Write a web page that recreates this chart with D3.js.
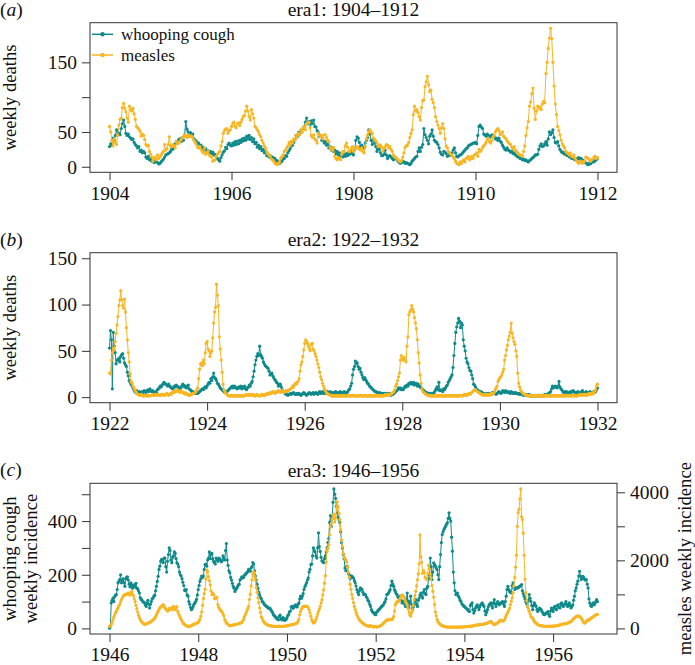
<!DOCTYPE html>
<html><head><meta charset="utf-8">
<script src="https://cdn.jsdelivr.net/npm/d3@7"></script>
<style>
body{margin:0;background:#fff}
svg text{font-family:"Liberation Serif","Times New Roman",Times,serif;fill:#111}
</style></head><body><svg id="c" width="695" height="665"></svg>
<script>
// ---------- data: weekly values, one per week from the start year ----------
const eraStarts = [1904, 1922, 1946];
const eraTitles = ["era1: 1904\u20131912", "era2: 1922\u20131932", "era3: 1946\u20131956"];
const seriesNames = ["whooping cough", "measles"];

const era1WC = [29,33,31,41,38,45,53,50,48,46,55,62,67,58,48,45,47,43,41,39,40,35,32,30,27,29,22,24,20,22,20,14,12,15,10,12,8,9,6,8,7,6,4,5,7,9,11,14,17,18,19,20,
22,26,25,31,33,36,35,39,40,36,42,38,46,65,54,50,45,49,44,47,40,38,37,33,34,30,31,26,28,24,26,22,23,20,22,19,21,17,18,15,12,10,8,13,17,21,23,28,26,32,34,31,
30,34,31,36,32,37,33,38,35,40,37,41,38,44,40,45,39,42,36,40,33,35,28,31,26,29,23,25,20,22,16,18,14,16,12,14,11,12,8,9,6,5,7,8,11,12,16,15,
20,23,26,30,31,35,39,45,44,49,46,51,50,55,58,64,70,62,65,60,66,62,67,58,57,52,49,44,45,38,38,34,36,31,33,27,29,24,27,22,24,19,22,17,20,15,18,14,17,15,19,16,21,18,22,20,
17,25,38,43,41,35,29,31,28,27,34,38,42,53,47,38,32,39,34,29,22,27,25,20,16,16,18,24,17,12,15,16,14,12,10,11,12,11,8,6,5,6,8,7,5,6,5,4,3,5,8,10,
12,14,15,22,27,22,28,32,55,46,42,38,33,44,47,53,44,38,36,35,32,27,21,18,17,22,21,19,15,16,17,17,20,24,27,20,15,14,16,17,18,20,22,24,26,27,30,31,32,33,34,34,
35,33,45,58,60,57,55,47,46,44,47,45,42,44,46,45,43,40,41,38,41,37,35,31,28,25,24,27,24,23,21,22,19,20,17,16,14,15,12,13,10,11,9,10,8,7,9,10,12,13,15,17,
17,18,25,30,33,29,30,33,36,31,40,50,46,49,53,42,35,34,36,30,25,22,20,21,18,19,16,17,14,15,12,13,11,10,12,11,13,11,12,10,9,7,6,4,3,5,4,6,8,7,9,10,12];

const era1Measles = [58,50,38,30,40,35,32,45,60,68,70,85,91,84,79,70,64,87,82,80,84,76,68,58,56,54,51,44,47,45,39,32,30,31,22,18,14,8,12,14,10,17,12,14,17,20,22,32,24,26,32,43,
30,29,32,30,27,36,33,34,36,39,41,43,46,44,42,46,43,44,44,42,38,35,32,28,27,29,25,22,20,27,18,20,22,17,15,14,8,9,10,15,18,20,22,30,36,48,52,54,55,48,52,53,
58,62,64,58,56,62,63,59,64,68,72,74,80,87,80,72,67,82,76,70,58,56,53,50,46,43,38,34,30,27,22,19,17,15,11,10,8,5,4,3,5,7,12,15,17,22,24,27,
30,35,31,37,34,40,38,45,42,48,46,53,50,56,58,53,62,63,64,56,45,42,46,40,38,34,48,46,44,44,40,46,46,42,38,36,28,25,24,28,15,12,10,13,12,10,18,22,22,30,34,28,22,22,26,29,
22,26,28,29,27,25,24,27,22,20,29,40,45,50,53,50,48,41,39,37,34,29,31,31,28,22,26,29,32,31,27,29,25,22,17,15,13,12,10,8,7,9,14,20,28,30,31,35,42,48,53,75,
87,80,82,78,72,67,85,95,96,115,122,130,118,108,110,97,92,85,72,65,60,55,48,56,62,55,40,30,27,22,20,18,17,14,12,8,5,4,3,7,5,8,10,7,12,13,15,10,12,15,12,17,
18,20,15,25,22,24,28,30,32,35,39,41,36,34,38,43,45,50,53,55,52,46,48,50,44,42,40,37,35,33,32,28,26,29,24,22,20,18,17,16,15,22,30,45,56,65,87,93,105,113,84,68,
80,87,84,86,82,90,94,92,134,150,170,185,199,184,150,116,90,75,58,52,46,38,33,30,27,22,20,19,17,20,15,14,17,12,9,7,5,6,8,5,7,8,14,13,12,10,8,10,11,14,15,12,13];

const era2WC = [53,72,62,9,70,55,48,36,40,40,42,38,44,46,47,42,37,35,33,27,23,18,16,14,12,10,8,6,5,7,5,4,6,5,4,6,5,7,6,5,7,8,6,9,7,6,7,5,4,6,5,8,
9,10,12,11,13,14,16,15,14,13,12,14,12,11,10,9,10,12,11,13,12,11,10,9,10,12,14,13,11,12,10,12,13,9,8,7,6,6,5,5,4,5,4,5,6,7,8,9,8,10,11,10,
12,14,16,15,20,18,22,26,21,20,18,15,14,12,10,9,8,7,6,5,5,6,7,8,9,10,11,12,10,12,11,10,9,10,11,10,12,9,11,10,12,9,8,10,11,13,12,15,
17,22,28,35,40,44,47,45,55,46,44,42,38,36,34,33,32,31,28,24,25,26,23,21,19,18,16,15,12,13,14,11,8,6,5,4,3,3,2,3,3,4,3,4,5,4,3,3,4,3,4,3,2,3,4,5,
4,3,2,3,4,5,4,3,4,5,3,4,5,4,3,5,6,4,5,6,4,5,4,5,6,5,4,6,5,4,5,4,5,6,4,5,4,5,6,5,4,5,6,5,4,5,6,8,9,12,15,24,
30,33,39,36,37,33,30,31,27,24,21,19,21,19,17,15,14,12,11,10,9,8,7,6,6,5,5,4,5,4,3,4,3,4,3,4,3,3,4,3,2,3,3,4,5,6,7,8,10,9,10,8,
9,8,10,12,11,13,12,15,14,16,15,14,16,13,14,15,12,14,12,11,10,9,8,7,6,5,5,4,4,3,4,3,4,4,5,7,9,11,8,16,7,8,7,6,9,8,10,12,13,16,
18,20,22,24,32,45,58,70,76,80,85,82,75,80,78,62,55,50,42,38,36,32,29,28,24,20,14,13,11,9,8,7,6,5,6,5,4,4,3,3,4,3,
4,3,3,4,5,4,5,4,3,4,5,6,5,4,5,7,6,5,7,6,5,6,5,4,6,5,4,5,4,5,4,4,3,4,3,4,3,2,3,2,3,2,2,3,2,1,2,1,2,1,2,1,2,2,1,2,2,1,2,2,3,2,3,3,
4,5,6,9,12,10,11,12,11,10,12,17,11,9,8,6,5,6,5,6,5,4,5,6,5,6,7,6,5,4,5,6,5,4,5,6,7,5,4,5,6,5,4,5,6,5,4,5,6,5,6,8,10];

const era2Measles = [26,25,40,48,53,51,60,69,78,87,99,105,115,105,99,96,106,92,75,62,48,38,25,17,15,12,10,8,6,4,3,3,2,2,3,2,1,2,2,1,2,2,1,2,2,2,3,2,2,3,2,3,
3,2,2,3,3,2,3,2,3,4,3,2,3,4,3,5,6,5,7,6,8,7,6,5,7,6,5,4,5,3,4,3,2,3,2,3,3,4,
4,5,6,8,10,20,30,36,37,34,40,36,48,58,
60,52,50,44,48,50,64,80,92,97,122,110,99,65,52,40,27,14,8,6,4,3,2,2,1,2,1,2,1,1,2,1,2,1,1,2,1,2,1,1,2,2,3,2,3,2,3,2,
2,3,2,1,2,3,2,2,1,2,3,2,2,3,2,3,4,3,4,5,4,5,6,5,4,6,5,6,7,6,5,6,7,6,5,6,7,6,7,8,
8,9,10,12,11,13,15,14,16,17,20,28,35,38,44,51,
58,62,60,58,55,52,50,57,58,52,50,47,44,40,36,32,27,22,19,15,12,9,7,5,
4,3,3,2,2,1,2,1,1,2,1,2,1,1,2,1,1,2,1,2,1,1,2,2,1,2,1,2,
2,1,2,1,1,2,1,2,2,1,1,2,1,2,1,1,2,1,2,1,2,1,1,2,1,2,2,1,2,1,1,2,1,2,3,2,2,3,2,3,3,4,5,6,
8,12,14,18,22,26,40,45,42,40,43,40,38,55,65,89,92,94,99,95,92,86,80,74,62,48,37,24,15,9,6,5,4,3,3,2,
2,2,1,2,1,1,2,1,2,1,1,2,1,2,1,2,1,1,2,1,2,1,2,1,1,2,1,2,1,2,1,1,2,1,2,2,1,2,3,2,3,2,3,4,3,4,5,6,
7,8,8,7,6,5,5,4,3,3,2,3,2,2,3,2,3,2,3,4,3,4,5,
8,10,12,17,19,21,22,24,27,30,40,45,51,56,62,66,70,80,69,64,60,57,50,44,26,15,11,8,6,5,4,3,3,2,
2,1,2,1,1,2,1,2,1,2,1,1,2,1,2,1,2,1,1,2,1,2,1,2,1,1,2,1,2,1,2,1,2,1,1,2,1,2,1,2,1,2,1,2,2,1,2,1,2,2,1,2,2,1,2,2,3,2,2,3,2,3,2,
3,2,3,4,3,4,3,5,4,6,8,12,14];

const era3WC = [1,8,95,105,113,100,118,124,126,145,170,175,182,200,170,178,185,170,157,185,190,192,180,165,155,170,160,150,162,158,155,168,150,148,140,132,115,108,106,100,98,95,88,82,95,105,90,76,90,100,110,113,
120,124,140,157,175,194,220,232,250,257,255,245,262,262,230,210,250,275,300,290,255,245,265,270,285,280,260,245,240,230,210,200,195,185,172,160,142,140,145,125,120,100,90,78,70,75,82,90,95,100,108,125,
145,160,175,185,195,190,195,220,238,240,232,255,262,285,260,275,280,260,250,245,240,262,255,250,262,260,255,248,252,270,262,255,290,316,255,235,215,207,190,180,168,157,150,138,145,150,155,162,165,180,185,192,
188,190,198,200,205,207,212,220,215,213,225,230,245,240,215,195,180,165,150,135,125,115,110,100,98,92,88,85,82,80,76,75,76,70,65,60,52,48,45,40,38,34,32,45,50,35,32,40,38,30,32,33,
40,48,52,62,65,80,82,75,78,85,88,82,80,90,95,110,120,112,120,130,145,155,162,170,180,188,210,220,238,240,270,300,290,285,270,262,300,356,305,287,265,252,248,245,260,270,285,300,320,335,395,420,
380,410,470,520,500,485,455,430,415,405,395,360,320,300,275,260,225,215,230,230,205,200,185,195,
195,190,188,178,170,158,145,135,126,140,151,148,145,135,126,128,126,118,113,105,100,90,82,70,63,60,57,53,
51,60,63,68,70,75,78,82,85,88,95,100,110,126,128,132,138,145,160,176,165,157,145,138,130,126,118,113,116,120,105,95,98,100,90,82,110,132,100,76,100,120,90,70,80,88,100,107,90,82,105,113,
125,132,120,113,135,145,130,126,150,157,185,200,262,230,182,210,244,238,232,225,219,200,182,230,275,320,350,360,369,375,381,388,394,410,431,410,400,340,288,210,170,140,126,130,132,120,113,105,100,92,88,84,
82,78,76,72,70,65,63,85,90,95,70,57,66,76,82,88,80,70,80,88,92,95,88,82,65,51,60,70,80,88,92,95,85,76,95,107,92,82,92,100,92,88,93,95,98,100,90,82,100,120,145,157,
145,138,135,132,160,170,150,145,150,151,151,152,155,157,160,163,140,130,120,110,100,92,82,105,126,112,100,85,70,85,95,88,82,70,63,70,76,73,70,63,57,52,51,55,57,60,63,52,45,65,76,68,
63,78,82,72,70,85,88,78,76,92,95,85,82,88,92,100,90,82,88,95,85,76,82,88,105,120,140,151,165,176,195,213,195,182,188,194,188,182,180,182,165,151,110,95,85,82,90,95,88,92,100,107,100];

const era3Measles = [60,80,110,180,250,330,400,460,500,560,610,660,710,790,850,900,950,980,1000,990,1000,1030,1040,1000,980,1060,1085,1010,960,870,790,680,580,480,390,320,260,215,190,160,140,115,120,135,145,155,165,175,190,205,230,250,
275,300,350,405,450,505,560,605,630,650,680,700,640,600,570,540,510,520,580,600,560,550,610,645,580,550,620,640,500,430,370,320,265,220,165,140,115,95,82,70,62,60,60,68,80,95,110,120,135,145,155,165,
175,215,270,360,480,680,880,1020,1150,1450,1720,1670,1520,1400,1280,1100,990,1040,1000,880,870,920,900,700,620,570,540,510,480,420,370,270,210,160,140,115,95,82,85,90,95,100,105,110,115,120,130,140,150,155,165,175,
210,260,330,400,450,510,580,650,850,1000,1250,1430,1600,1670,1530,1420,1200,1060,900,760,600,470,340,290,220,195,160,140,115,105,95,85,80,75,70,65,60,62,58,60,62,58,60,65,60,62,58,62,60,65,70,75,
80,85,90,95,100,105,112,118,120,130,140,150,170,210,270,400,500,570,620,640,655,650,645,650,640,610,540,460,360,260,200,160,170,200,270,340,420,500,570,650,750,840,990,1130,1330,1550,1950,2270,2350,2460,2750,2990,
3090,3220,3330,3350,3130,3250,3550,3720,3580,3380,3200,2900,2600,2400,2200,2100,2050,2010,1950,1800,1650,1500,1300,1150,1000,880,760,650,550,470,400,340,290,250,220,195,
175,150,135,115,100,90,80,70,60,75,80,65,60,50,40,55,
60,45,40,55,60,75,85,105,125,150,170,200,220,245,250,250,258,268,262,252,290,345,510,690,740,790,790,790,840,890,940,990,960,940,860,790,740,680,580,480,400,360,450,530,680,840,960,1090,1250,1430,1600,1900,
2750,2100,1950,1620,1700,1650,1500,1460,1440,1600,1850,1750,1600,1480,1260,1090,920,700,480,370,260,200,160,135,110,95,80,70,60,55,50,45,40,42,40,38,40,42,40,38,40,42,40,38,40,42,40,42,40,42,45,45,
48,50,55,58,60,60,60,60,65,70,75,80,85,95,98,100,105,108,110,112,115,120,125,130,135,142,150,156,170,185,200,205,180,155,130,110,125,140,150,160,190,210,235,245,220,210,230,260,320,380,430,480,
540,600,700,800,900,1050,1250,1500,1800,2150,3000,3400,3500,3800,4100,3280,3200,2800,2150,1450,1050,820,650,570,500,420,350,320,300,250,205,180,155,130,110,100,90,85,80,75,70,65,60,60,60,60,62,60,62,65,62,65,
65,68,70,75,78,80,88,95,102,110,118,125,130,135,140,145,150,155,165,180,195,205,230,260,285,305,325,350,360,370,360,350,330,300,260,205,170,155,180,205,235,250,250,260,300,305,320,340,365,380,400,405,410];

// tick values and labels
const era1XTicks = [1904, 1906, 1908, 1910, 1912];
const era2XTicks = [1922, 1924, 1926, 1928, 1930, 1932];
const era3XTicks = [1946, 1948, 1950, 1952, 1954, 1956];
const era1YTicks = [0, 50, 100, 150], era1YLabels = ["0", "50", "", "150"];
const era2YTicks = [0, 50, 100, 150], era2YLabels = ["0", "50", "100", "150"];
const era3YTicks = [0, 100, 200, 300, 400, 500], era3YLabels = ["0", "", "200", "", "400", ""];
const era3Y2Ticks = [0, 1000, 2000, 3000, 4000], era3Y2Labels = ["0", "", "2000", "", "4000"];
const era2YMax = 150;

// ---------- drawing ----------
const colWC = "#0f8a8b", colMe = "#f8b623";
const FONT = '"Liberation Serif","Times New Roman",Times,serif';
const svg = d3.select("#c");
const L = 90, R = 617, FS = 19.5, FT = 18.6;

function pad(lo, hi) { const d = (hi - lo) * 0.04; return [lo - d, hi + d]; }
function toPts(vals, start) { return vals.map((v, i) => ({ t: start + i / 52, v })); }

const panels = [
  { lab: "a", title: eraTitles[0], start: eraStarts[0], wc: era1WC, me: era1Measles, top: 22.7, bot: 172.3,
    xt: era1XTicks, yt: era1YTicks, yl: era1YLabels, ylabel: ["weekly deaths"], legend: true },
  { lab: "b", title: eraTitles[1], start: eraStarts[1], wc: era2WC, me: era2Measles, top: 252.7, bot: 402.7,
    xt: era2XTicks, yt: era2YTicks, yl: era2YLabels, ylabel: ["weekly deaths"], fixedMax: era2YMax },
  { lab: "c", title: eraTitles[2], start: eraStarts[2], wc: era3WC, me: era3Measles, top: 483.3, bot: 634,
    xt: era3XTicks, yt: era3YTicks, yl: era3YLabels, ylabel: ["whooping cough", "weekly incidence"], dual: true }
];

panels.forEach(p => {
  const wc = toPts(p.wc, p.start), me = toPts(p.me, p.start);
  const tEnd = wc[wc.length - 1].t;
  const x = d3.scaleLinear().domain(pad(p.start, tEnd)).range([L, R]);
  let yW, yM;
  if (p.dual) {
    yW = d3.scaleLinear().domain(pad(0, d3.max(p.wc))).range([p.bot, p.top]);
    yM = d3.scaleLinear().domain(pad(0, d3.max(p.me))).range([p.bot, p.top]);
  } else {
    const mx = p.fixedMax != null ? p.fixedMax : Math.max(d3.max(p.wc), d3.max(p.me));
    yW = d3.scaleLinear().domain(pad(0, mx)).range([p.bot, p.top]);
    yM = yW;
  }
  const g = svg.append("g");

  // series
  [[wc, yW, colWC], [me, yM, colMe]].forEach(([d, ys, col]) => {
    g.append("path").datum(d)
      .attr("fill", "none").attr("stroke", col).attr("stroke-width", 1)
      .attr("d", d3.line().x(q => x(q.t)).y(q => ys(q.v)));
    g.append("g").selectAll("circle").data(d).join("circle")
      .attr("cx", q => x(q.t)).attr("cy", q => ys(q.v)).attr("r", 1.6).attr("fill", col);
  });

  // box
  g.append("rect").attr("x", L).attr("y", p.top).attr("width", R - L).attr("height", p.bot - p.top)
    .attr("fill", "none").attr("stroke", "#333").attr("stroke-width", 1);

  // axes
  const ax = g.append("g").attr("transform", `translate(0,${p.bot})`)
    .call(d3.axisBottom(x).tickValues(p.xt).tickFormat(d3.format("d")).tickSize(8).tickPadding(5.5));
  const ay = g.append("g").attr("transform", `translate(${L},0)`)
    .call(d3.axisLeft(yW).tickValues(p.yt).tickFormat((d, i) => p.yl[i]).tickSize(8).tickPadding(5));
  const axes = [ax, ay];
  if (p.dual) {
    const ay2 = g.append("g").attr("transform", `translate(${R},0)`)
      .call(d3.axisRight(yM).tickValues(era3Y2Ticks).tickFormat((d, i) => era3Y2Labels[i]).tickSize(8).tickPadding(5));
    axes.push(ay2);
    g.append("text").attr("transform", `translate(691,${(p.top + p.bot) / 2}) rotate(-90)`)
      .attr("text-anchor", "middle").attr("font-size", FT).attr("font-family", FONT).text("measles weekly incidence");
  }
  axes.forEach(a => {
    a.attr("font-family", FONT);
    a.select(".domain").remove();
    a.selectAll(".tick line").attr("stroke", "#333");
    a.selectAll("text").attr("font-size", FS).attr("font-family", FONT).attr("fill", "#111");
  });

  // y label
  const yc = (p.top + p.bot) / 2;
  p.ylabel.forEach((s, i) => {
    g.append("text").attr("transform", `translate(${16 + i * 20.5},${yc}) rotate(-90)`)
      .attr("text-anchor", "middle").attr("font-size", FT).attr("font-family", FONT).text(s);
  });

  // title and panel label
  g.append("text").attr("x", (L + R) / 2).attr("y", p.top - 6.5).attr("text-anchor", "middle")
    .attr("font-size", FS).attr("font-family", FONT).text(p.title);
  const pl = g.append("text").attr("x", 0).attr("y", p.top - 7).attr("font-size", FS).attr("font-family", FONT);
  pl.append("tspan").text("(");
  pl.append("tspan").attr("font-style", "italic").text(p.lab);
  pl.append("tspan").text(")");

  // legend
  if (p.legend) {
    [[colWC, seriesNames[0], 34.3], [colMe, seriesNames[1], 55]].forEach(([col, name, yy]) => {
      g.append("line").attr("x1", 92).attr("x2", 113).attr("y1", yy).attr("y2", yy)
        .attr("stroke", col).attr("stroke-width", 1.5);
      g.append("circle").attr("cx", 102.5).attr("cy", yy).attr("r", 2.2).attr("fill", col);
      g.append("text").attr("x", 121).attr("y", yy + 5.5).attr("font-size", 17).attr("font-family", FONT).text(name);
    });
  }
});
</script></body></html>
